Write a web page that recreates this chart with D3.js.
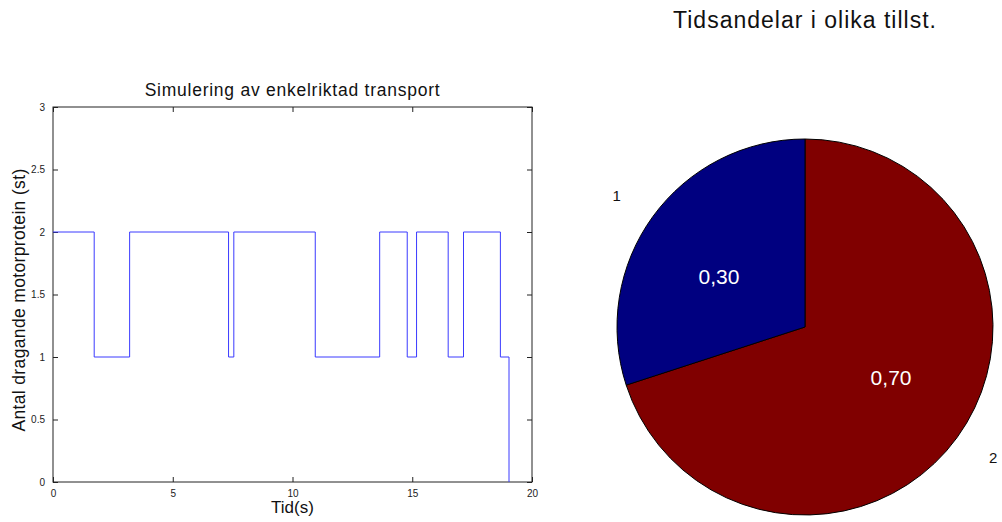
<!DOCTYPE html>
<html><head><meta charset="utf-8">
<script src="https://cdn.jsdelivr.net/npm/d3@7"></script>
<style>body{margin:0;background:#fff;}svg{display:block;font-family:"Liberation Sans",Arial,sans-serif;}</style>
</head><body>
<svg id="c" width="1002" height="522"></svg>
<script>
// Step data (time in s, number of pulling motor proteins)
const times = [0, 1.72, 3.20, 7.33, 7.55, 10.95, 13.64, 14.79, 15.18, 16.50, 17.14, 18.68, 19.04];
const counts = [2, 1, 2, 1, 2, 1, 2, 1, 2, 1, 2, 1, 0];
const xTicks = [0, 5, 10, 15, 20];
const yTicks = [0, 0.5, 1, 1.5, 2, 2.5, 3];
const yTickLabels = ["0", "0.5", "1", "1.5", "2", "2.5", "3"];
// Pie data
const pieLabels = ["2", "1"];
const pieValues = [0.70, 0.30];
const pieTexts = ["0,70", "0,30"];
const pieColors = ["#800000", "#000080"];

const svg = d3.select("#c");
const L = 53, R = 532, T = 107, B = 482;
const x = d3.scaleLinear().domain([0, 20]).range([L, R]);
const y = d3.scaleLinear().domain([0, 3]).range([B, T]);

const g = svg.append("g");
// frame
g.append("rect").attr("x", L).attr("y", T).attr("width", R - L).attr("height", B - T)
  .attr("fill", "none").attr("stroke", "#222").attr("stroke-width", 1);

function styleAxis(sel) {
  sel.select(".domain").remove();
  sel.selectAll(".tick line").attr("stroke", "#222");
  sel.selectAll(".tick text").attr("fill", "#222").style("font-size", "10px").style("font-family", "Liberation Sans, Arial, sans-serif");
}
g.append("g").attr("transform", `translate(0,${B})`)
  .call(d3.axisBottom(x).tickValues(xTicks).tickSize(-5).tickPadding(8).tickFormat(d3.format("d")))
  .call(styleAxis);
g.append("g").attr("transform", `translate(0,${T})`)
  .call(d3.axisTop(x).tickValues(xTicks).tickSize(-5).tickFormat(""))
  .call(styleAxis);
g.append("g").attr("transform", `translate(${L},0)`)
  .call(d3.axisLeft(y).tickValues(yTicks).tickSize(-5).tickPadding(8).tickFormat((d, i) => yTickLabels[i]))
  .call(styleAxis);
g.append("g").attr("transform", `translate(${R},0)`)
  .call(d3.axisRight(y).tickValues(yTicks).tickSize(-5).tickFormat(""))
  .call(styleAxis);

// step line
const pts = times.map((t, i) => [t, counts[i]]);
const line = d3.line().x(d => x(d[0])).y(d => y(d[1])).curve(d3.curveStepAfter);
g.append("path").datum(pts).attr("d", line)
  .attr("fill", "none").attr("stroke", "#3a3aff").attr("stroke-width", 1);

g.append("text").attr("x", (L + R) / 2).attr("y", 96).attr("text-anchor", "middle")
  .style("font-size", "17.5px").style("letter-spacing", "0.75px").attr("fill", "#111").text("Simulering av enkelriktad transport");
g.append("text").attr("x", (L + R) / 2).attr("y", 513).attr("text-anchor", "middle")
  .style("font-size", "17px").attr("fill", "#111").text("Tid(s)");
g.append("text").attr("transform", `translate(25,300) rotate(-90)`).attr("text-anchor", "middle")
  .style("font-size", "17.5px").style("letter-spacing", "0.35px").attr("fill", "#111").text("Antal dragande motorprotein (st)");

// pie
const cx = 805, cy = 327, r = 188;
const pg = svg.append("g").attr("transform", `translate(${cx},${cy})`);
const pie = d3.pie().sort(null).value(d => d)(pieValues);
const arc = d3.arc().innerRadius(0).outerRadius(r);
pg.selectAll("path.s").data(pie).join("path").attr("class", "s")
  .attr("d", arc).attr("fill", (d, i) => pieColors[i])
  .attr("stroke", "#000").attr("stroke-width", 1);
// value labels placed slightly counter-clockwise of slice mid-angle, as in the reference
const labelShift = -0.1;
const inArc = d3.arc().innerRadius(r * 0.53).outerRadius(r * 0.53);
pg.selectAll("text.p").data(pie).join("text").attr("class", "p")
  .attr("transform", d => `translate(${inArc.centroid({startAngle: d.startAngle + labelShift, endAngle: d.endAngle + labelShift})})`)
  .attr("text-anchor", "middle").attr("dy", "0.35em")
  .style("font-size", "21px").attr("fill", "#fff")
  .text((d, i) => pieTexts[i]);
const outArc = d3.arc().innerRadius(r * 1.22).outerRadius(r * 1.22);
pg.selectAll("text.o").data(pie).join("text").attr("class", "o")
  .attr("transform", d => `translate(${outArc.centroid({startAngle: d.startAngle - 0.02, endAngle: d.endAngle - 0.02})})`)
  .attr("text-anchor", "middle").attr("dy", "0.35em")
  .style("font-size", "15px").attr("fill", "#111")
  .text((d, i) => pieLabels[i]);

svg.append("text").attr("x", 805).attr("y", 28).attr("text-anchor", "middle")
  .style("font-size", "23px").style("letter-spacing", "1px").attr("fill", "#111").text("Tidsandelar i olika tillst.");
</script>
</body></html>
